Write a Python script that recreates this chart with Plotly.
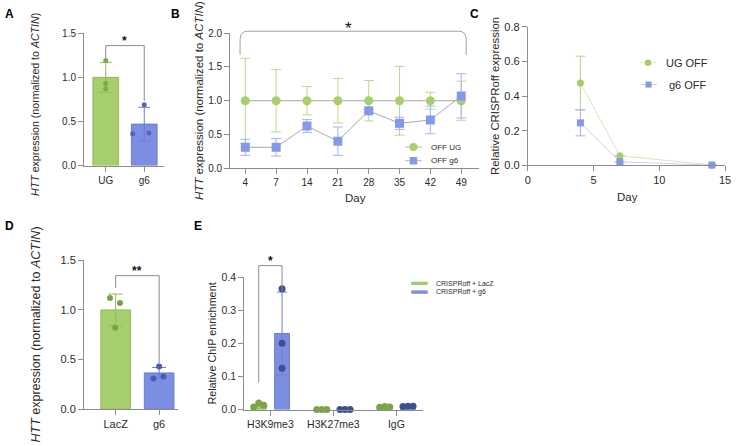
import plotly.graph_objects as go

W, H = 738, 446
FONT = "Liberation Sans, Arial, Helvetica, sans-serif"

# ---------------- data ----------------
# Panel A
a_groups = ["UG", "g6"]
a_means = [1.0, 0.47]
a_sd = [0.17, 0.19]
a_points = [[1.19, 0.93, 0.87], [0.69, 0.36, 0.37]]

# Panel B
b_days = ["4", "7", "14", "21", "28", "35", "42", "49"]
b_ug = [1.0, 1.0, 1.0, 1.0, 1.0, 1.0, 1.0, 1.0]
b_ug_sd = [0.63, 0.46, 0.21, 0.33, 0.30, 0.51, 0.125, 0.29]
b_g6 = [0.31, 0.31, 0.625, 0.40, 0.85, 0.665, 0.715, 1.07]
b_g6_hi = [0.43, 0.44, 0.72, 0.61, 0.87, 0.755, 0.92, 1.40]
b_g6_lo = [0.19, 0.18, 0.53, 0.19, 0.83, 0.575, 0.51, 0.745]

# Panel C
c_days = [4, 7, 14]
c_ug = [0.475, 0.055, 0.002]
c_ug_sd = [0.155, None, None]
c_g6 = [0.245, 0.02, 0.001]
c_g6_sd = [0.075, None, None]

# Panel D
d_groups = ["LacZ", "g6"]
d_means = [1.0, 0.365]
d_sd = [0.16, 0.055]
d_points = [[1.12, 1.07, 0.82], [0.43, 0.31, 0.33]]

# Panel E
e_marks = ["H3K9me3", "H3K27me3", "IgG"]
e_lacz = [0.012, 0.0008, 0.008]
e_g6 = [0.23, 0.0008, 0.01]
e_g6_sd = [0.125, None, None]
e_lacz_pts = [[0.008, 0.02, 0.013], [0.0, 0.0, 0.0], [0.007, 0.009, 0.008]]
e_g6_pts = [[0.365, 0.20, 0.125], [0.0, 0.0, 0.0], [0.009, 0.01, 0.01]]

# significance brackets (leg bottom left, top, leg bottom right) and star height, data units
a_sig = (1.22, 1.36, 0.73); a_star = 1.41
b_sig = (1.68, 2.03, 1.68); b_star = 2.075
d_sig = (1.22, 1.345, 0.45); d_star = 1.39
e_sig = (0.082, 0.435, 0.357); e_star = 0.45

# ---------------- styling ----------------
GREEN = "#a7ce6d"; GREEN_E = "#93ba5c"; GREEN_P = "#7fa64a"
BLUE = "#7c8ee2"; BLUE_E = "#6b7dd2"; BLUE_P = "#5465bd"
AX = "#8c8c8c"
TXT = "#2b2b2b"

def px(x):
    return x / W

def py(y):
    return 1 - y / H

fig = go.Figure()

def axis_style(size):
    return dict(showline=True, linecolor=AX, linewidth=1, ticks="outside", ticklen=5,
                tickcolor=AX, tickwidth=1, showgrid=False, zeroline=False,
                tickfont=dict(size=size, color=TXT, family=FONT), fixedrange=True)

# ---------------- Panel A ----------------
a_jit = [[0.0, 0.0, 0.0], [0.0, -0.3, 0.12]]
a_cols = [(GREEN, GREEN_E, GREEN_P), (BLUE, BLUE_E, BLUE_P)]
for i, g in enumerate(a_groups):
    fill, edge, pt = a_cols[i]
    fig.add_trace(go.Bar(x=[i], y=[a_means[i]], width=0.667, xaxis="x", yaxis="y",
                         marker=dict(color=fill, line=dict(color=edge, width=1)),
                         error_y=dict(type="data", array=[a_sd[i]], color=edge, thickness=1, width=6)))
    fig.add_trace(go.Scatter(x=[i + j for j in a_jit[i]], y=a_points[i], mode="markers",
                             xaxis="x", yaxis="y", cliponaxis=False,
                             marker=dict(color=pt, size=5)))

# ---------------- Panel B ----------------
bx = list(range(len(b_days)))
fig.add_trace(go.Scatter(x=bx, y=b_ug, mode="lines+markers", xaxis="x2", yaxis="y2",
                         cliponaxis=False, line=dict(color="#a8a8a8", width=1),
                         marker=dict(symbol="circle", size=9, color="#a7cf6b"),
                         error_y=dict(type="data", array=b_ug_sd, color="#bcd98f", thickness=1, width=5)))
fig.add_trace(go.Scatter(x=bx, y=b_g6, mode="lines+markers", xaxis="x2", yaxis="y2",
                         cliponaxis=False, line=dict(color="#a8a8a8", width=1),
                         marker=dict(symbol="square", size=9, color="#8599ea"),
                         error_y=dict(type="data",
                                      array=[h - m for h, m in zip(b_g6_hi, b_g6)],
                                      arrayminus=[m - l for l, m in zip(b_g6_lo, b_g6)],
                                      color="#a5b3f0", thickness=1, width=5)))

# ---------------- Panel C ----------------
fig.add_trace(go.Scatter(x=c_days, y=c_ug, mode="lines+markers", xaxis="x3", yaxis="y3",
                         cliponaxis=False, line=dict(color="#d6e8bd", width=1),
                         marker=dict(symbol="circle", size=7, color="#a6cd6a"),
                         error_y=dict(type="data", array=c_ug_sd, color="#b3d58a", thickness=1, width=5)))
fig.add_trace(go.Scatter(x=c_days, y=c_g6, mode="lines+markers", xaxis="x3", yaxis="y3",
                         cliponaxis=False, line=dict(color="#c9d1f5", width=1),
                         marker=dict(symbol="square", size=7, color="#8498e8"),
                         error_y=dict(type="data", array=c_g6_sd, color="#a1b0f0", thickness=1, width=5)))

# ---------------- Panel D ----------------
d_jit = [[-0.13, 0.1, -0.01], [0.0, -0.13, 0.1]]
d_cols = [(GREEN, GREEN_E, "#7a9f46"), (BLUE, BLUE_E, "#4a5bb0")]
for i, g in enumerate(d_groups):
    fill, edge, pt = d_cols[i]
    fig.add_trace(go.Bar(x=[i], y=[d_means[i]], width=0.68, xaxis="x4", yaxis="y4",
                         marker=dict(color=fill, line=dict(color=edge, width=1)),
                         error_y=dict(type="data", array=[d_sd[i]], color=edge, thickness=1, width=7)))
    fig.add_trace(go.Scatter(x=[i + j for j in d_jit[i]], y=d_points[i], mode="markers",
                             xaxis="x4", yaxis="y4", cliponaxis=False,
                             marker=dict(color=pt, size=6)))

# ---------------- Panel E ----------------
E_W = 0.235
E_OFF = 0.185
ex = list(range(len(e_marks)))
fig.add_trace(go.Bar(x=ex, y=e_lacz, width=E_W, offset=-E_OFF - E_W / 2, xaxis="x5", yaxis="y5",
                     marker=dict(color="#97c863", line=dict(color="#8ab955", width=1))))
fig.add_trace(go.Bar(x=ex, y=e_g6, width=E_W, offset=E_OFF - E_W / 2, xaxis="x5", yaxis="y5",
                     marker=dict(color=BLUE, line=dict(color=BLUE_E, width=1)),
                     error_y=dict(type="data", array=e_g6_sd, color=BLUE_E, thickness=1, width=5)))
e_jit = [-0.08, 0.0, 0.08]
e_g6_jit = [[0.0, 0.0, 0.0], e_jit, e_jit]
lx, ly, gx, gy = [], [], [], []
for i in ex:
    for j, v in zip(e_jit, e_lacz_pts[i]):
        lx.append(i - E_OFF + j); ly.append(v)
    for j, v in zip(e_g6_jit[i], e_g6_pts[i]):
        gx.append(i + E_OFF + j); gy.append(v)
fig.add_trace(go.Scatter(x=lx, y=ly, mode="markers", xaxis="x5", yaxis="y5", cliponaxis=False,
                         marker=dict(color="#7ea44a", size=7)))
fig.add_trace(go.Scatter(x=gx, y=gy, mode="markers", xaxis="x5", yaxis="y5", cliponaxis=False,
                         marker=dict(color="#3f4f90", size=7)))

# ---------------- axes ----------------
lay = {}
lay["xaxis"] = dict(axis_style(10), domain=[px(82), px(163)], range=[-0.564, 1.513], anchor="y",
                    tickvals=[0, 1], ticktext=a_groups)
lay["yaxis"] = dict(axis_style(10), domain=[py(164), py(28)], range=[0, 1.5], anchor="x",
                    tickvals=[0, 0.5, 1.0, 1.5], tickformat=".1f")
lay["xaxis2"] = dict(axis_style(10), domain=[px(230), px(482)], range=[-0.49, 7.58], anchor="y2",
                     tickvals=bx, ticktext=b_days)
lay["yaxis2"] = dict(axis_style(10), domain=[py(166.7), py(28)], range=[0, 2.0], anchor="x2",
                     tickvals=[0, 0.5, 1.0, 1.5, 2.0], tickformat=".1f")
lay["xaxis3"] = dict(axis_style(11), domain=[px(531.3), px(731)], range=[0, 15], anchor="y3",
                     tickvals=[0, 5, 10, 15])
lay["yaxis3"] = dict(axis_style(11), domain=[py(163.7), py(21.3)], range=[0, 0.8], anchor="x3",
                     tickvals=[0, 0.2, 0.4, 0.6, 0.8], tickformat=".1f")
lay["xaxis4"] = dict(axis_style(11), domain=[px(82), px(177)], range=[-0.727, 1.43], anchor="y4",
                     tickvals=[0, 1], ticktext=d_groups)
lay["yaxis4"] = dict(axis_style(11), domain=[py(414.3), py(261.3)], range=[0, 1.5], anchor="x4",
                     tickvals=[0, 0.5, 1.0, 1.5], tickformat=".1f")
lay["xaxis5"] = dict(axis_style(10.5), domain=[px(244.3), px(425)], range=[-0.414, 2.42], anchor="y5",
                     tickvals=ex, ticktext=e_marks)
lay["yaxis5"] = dict(axis_style(10.5), domain=[py(414.7), py(278.7)], range=[0, 0.4], anchor="x5",
                     tickvals=[0, 0.1, 0.2, 0.3, 0.4], tickformat=".1f")

ann = []
shapes = []

# significance brackets: x in data units, y as fraction of the axis domain (unclipped vertically)
def bracket(xa, ya, ymax, x0, x1, sig, color=AX):
    lo0, top, lo1 = (v / ymax for v in sig)
    shapes.append(dict(type="path", xref=xa, yref=ya + " domain", layer="above",
                       path=f"M {x0},{lo0} L {x0},{top} L {x1},{top} L {x1},{lo1}",
                       line=dict(color=color, width=1)))

def star(xa, ya, ymax, x, yv, t, size, bold=True):
    ann.append(dict(x=x, y=yv / ymax, xref=xa, yref=ya + " domain", text=t, showarrow=False,
                    xanchor="center", yanchor="middle",
                    font=dict(size=size, color="#111", family=FONT,
                              weight="bold" if bold else "normal")))

bracket("x", "y", 1.5, 0, 1, a_sig)
bracket("x4", "y4", 1.5, 0, 1, d_sig)
bracket("x5", "y5", 0.4, -E_OFF, E_OFF, e_sig)
# curved bracket for B
bl0, btop, bl1 = (v / 2.0 for v in b_sig)
bxl, bxr = -0.17, 7.16
shapes.append(dict(type="path", xref="x2", yref="y2 domain", layer="above",
                   path=(f"M {bxl},{bl0} L {bxl},{btop - 0.06} Q {bxl},{btop} {bxl + 0.25},{btop} "
                         f"L {bxr - 0.25},{btop} Q {bxr},{btop} {bxr},{btop - 0.06} L {bxr},{bl1}"),
                   line=dict(color="#a0a0a0", width=1)))

star("x", "y", 1.5, 0.5, a_star, "*", 12)
star("x2", "y2", 2.0, 3.35, b_star, "*", 17, bold=False)
star("x4", "y4", 1.5, 0.5, d_star, "**", 12)
star("x5", "y5", 0.4, 0, e_star, "*", 12)

def text(x, y, t, size, bold=False, angle=0, xanchor="center", color=TXT):
    ann.append(dict(x=px(x), y=py(y), xref="paper", yref="paper", text=t, showarrow=False,
                    textangle=angle, xanchor=xanchor, yanchor="middle",
                    font=dict(size=size, color=color, family=FONT,
                              weight="bold" if bold else "normal")))

# panel labels
for lab, x, y in [("A", 7, 8), ("B", 175, 8), ("C", 477, 8), ("D", 7, 226), ("E", 197, 226)]:
    text(x, y, lab, 12, bold=True, color="#000")

HTT = "<i>HTT</i> expression (normalized to <i>ACTIN</i>)"
text(33, 101, HTT, 10.6, angle=-90)
text(199, 97, HTT, 11.5, angle=-90)
text(498, 92.5, "Relative CRISPRoff expression", 11.4, angle=-90)
text(33, 338, HTT, 12.5, angle=-90)
text(212, 346.5, "Relative ChIP enrichment", 10.8, angle=-90)
text(357, 197, "Day", 11.5)
text(632, 196, "Day", 11.5)

# legends (glyphs in paper space)
def seg(x0, x1, y, color, width=1):
    shapes.append(dict(type="line", xref="paper", yref="paper", x0=px(x0), x1=px(x1),
                       y0=py(y), y1=py(y), line=dict(color=color, width=width)))

def glyph(kind, cx, cy, d, color):
    r = d / 2
    shapes.append(dict(type=kind, xref="paper", yref="paper", xsizemode="pixel", ysizemode="pixel",
                       xanchor=px(cx), yanchor=py(cy), x0=-r, x1=r, y0=-r, y1=r,
                       fillcolor=color, line=dict(width=0)))

# B legend
seg(407, 424, 145, "#b5b5b5"); glyph("circle", 415.5, 145, 8, "#a7cf6b")
text(431, 145, "OFF UG", 8, xanchor="left")
seg(407, 424, 159, "#b5b5b5"); glyph("rect", 415.5, 159, 7.5, "#8599ea")
text(431, 159, "OFF g6", 8, xanchor="left")
# C legend
seg(645, 661, 58.3, "#d6e8bd"); glyph("circle", 653, 58.3, 6.5, "#a6cd6a")
text(669, 58.3, "UG OFF", 11, xanchor="left")
seg(646, 662, 80.7, "#c9d1f5"); glyph("rect", 653.5, 80.7, 6, "#8498e8")
text(672.5, 80.7, "g6 OFF", 11, xanchor="left")
# E legend
seg(413.3, 430, 285, "#9ccf69", width=3.4)
text(436.5, 285, "CRISPRoff + LacZ", 7, xanchor="left")
seg(413.3, 430, 294, "#7c8ee3", width=3.4)
text(436.5, 294, "CRISPRoff + g6", 7, xanchor="left")

fig.update_layout(**lay)
fig.update_layout(width=W, height=H, margin=dict(l=0, r=0, t=0, b=0),
                  paper_bgcolor="white", plot_bgcolor="white", showlegend=False,
                  barmode="overlay", font=dict(family=FONT, color=TXT),
                  annotations=ann, shapes=shapes)

fig.write_html("out.html")
